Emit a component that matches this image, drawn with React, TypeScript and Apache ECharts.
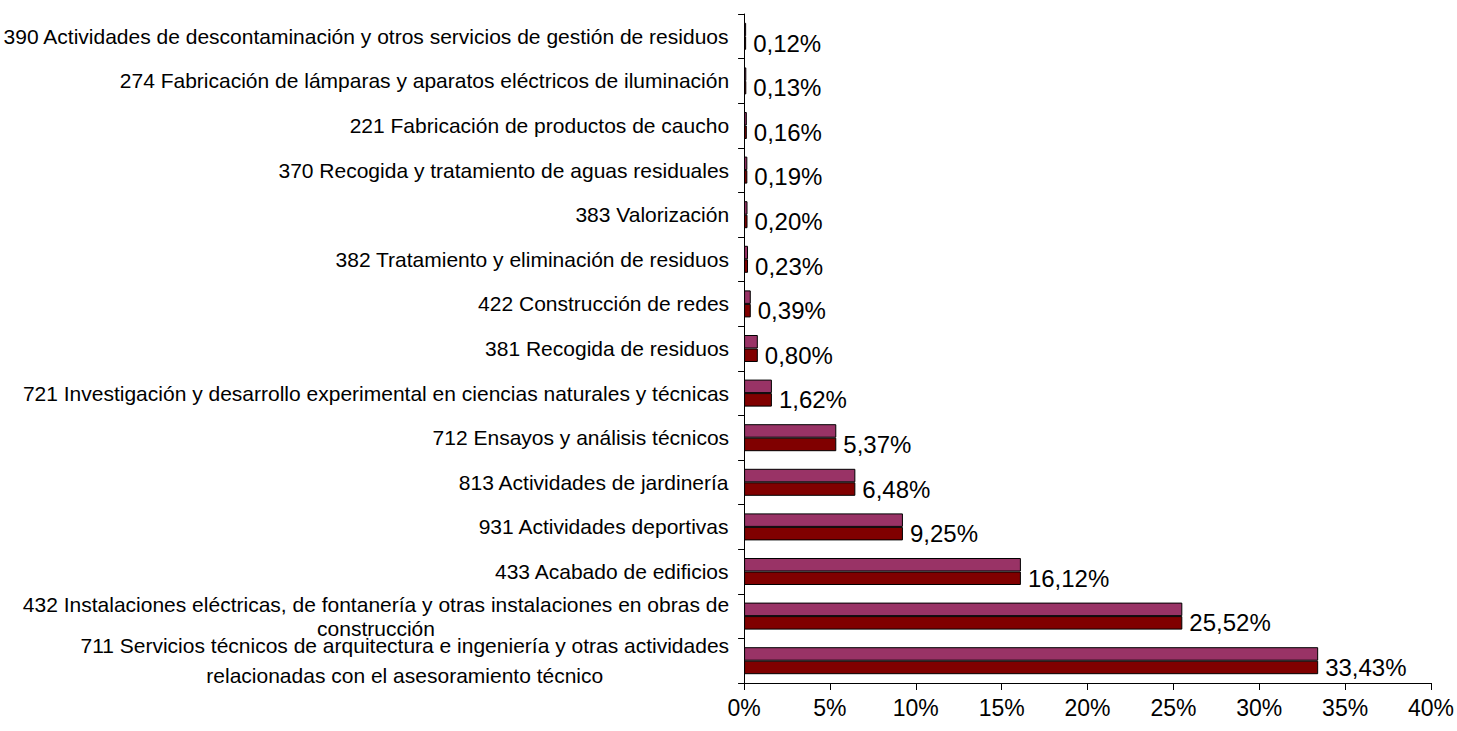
import React, { useEffect, useRef } from "react";
import * as echarts from "echarts";

// Categories listed top to bottom as in the picture
const categories: string[] = [
  "390 Actividades de descontaminación y otros servicios de gestión de residuos",
  "274 Fabricación de lámparas y aparatos eléctricos de iluminación",
  "221 Fabricación de productos de caucho",
  "370 Recogida y tratamiento de aguas residuales",
  "383 Valorización",
  "382 Tratamiento y eliminación de residuos",
  "422 Construcción de redes",
  "381 Recogida de residuos",
  "721 Investigación y desarrollo experimental en ciencias naturales y técnicas",
  "712 Ensayos y análisis técnicos",
  "813 Actividades de jardinería",
  "931 Actividades deportivas",
  "433 Acabado de edificios",
  "432 Instalaciones eléctricas, de fontanería y otras instalaciones en obras de\nconstrucción",
  "711 Servicios técnicos de arquitectura e ingeniería y otras actividades\nrelacionadas con el asesoramiento técnico",
];

// Percent values (%) — upper (purple) and lower (dark red, labelled) bars
const valuesUpper: number[] = [0.12, 0.13, 0.16, 0.19, 0.2, 0.23, 0.39, 0.8, 1.62, 5.37, 6.48, 9.25, 16.12, 25.52, 33.43];
const valuesLower: number[] = [0.12, 0.13, 0.16, 0.19, 0.2, 0.23, 0.39, 0.8, 1.62, 5.37, 6.48, 9.25, 16.12, 25.52, 33.43];

const xMin = 0;
const xMax = 40;
const xStep = 5;

const FONT = "'Liberation Sans', Arial, Helvetica, sans-serif";

export default function App() {
  const ref = useRef<HTMLDivElement>(null);

  useEffect(() => {
    if (!ref.current) return;
    const chart = echarts.init(ref.current, undefined, { renderer: "svg" });
    const option: any = {
      animation: false,
      backgroundColor: "#ffffff",
      grid: { left: 743, right: 24, top: 14, bottom: 48, containLabel: false },
      xAxis: {
        type: "value",
        min: xMin,
        max: xMax,
        interval: xStep,
        axisLine: { show: true, lineStyle: { color: "#000", width: 1 } },
        axisTick: { show: true, length: 7, lineStyle: { color: "#000" } },
        splitLine: { show: false },
        axisLabel: {
          formatter: (v: number) => `${v}%`,
          color: "#000",
          fontFamily: FONT,
          fontSize: 23,
          margin: 13,
        },
      },
      yAxis: {
        type: "category",
        inverse: true,
        data: categories,
        axisLine: { show: true, lineStyle: { color: "#000", width: 1 } },
        axisTick: { show: true, length: 6, lineStyle: { color: "#000" } },
        axisLabel: {
          interval: 0,
          hideOverlap: false,
          color: "#000",
          fontFamily: FONT,
          fontSize: 21,
          margin: 15,
          formatter: (v: string, i: number) => {
            const style = i === 14 ? "d" : "c";
            return v
              .split("\n")
              .map((l) => `{${style}|${l}}`)
              .join("\n");
          },
          rich: {
            c: { align: "center", fontFamily: FONT, fontSize: 21, color: "#000", lineHeight: 24 },
            d: { align: "center", fontFamily: FONT, fontSize: 21, color: "#000", lineHeight: 30 },
          },
        },
      },
      series: [
        {
          type: "bar",
          data: valuesUpper,
          barWidth: 13.5,
          barGap: "0%",
          itemStyle: { color: "#993366", borderColor: "#000", borderWidth: 1 },
          label: { show: false },
        },
        {
          type: "bar",
          data: valuesLower,
          barWidth: 13.5,
          barGap: "0%",
          itemStyle: { color: "#800000", borderColor: "#000", borderWidth: 1 },
          label: {
            show: true,
            position: "right",
            distance: 7,
            color: "#000",
            fontFamily: FONT,
            fontSize: 24,
            formatter: (p: any) => `${p.value.toFixed(2).replace(".", ",")}%`,
          },
        },
      ],
    };
    chart.setOption(option);
    return () => chart.dispose();
  }, []);

  return (
    <div
      ref={ref}
      style={{ position: "absolute", left: 0, top: 0, width: 1457, height: 731 }}
    />
  );
}
